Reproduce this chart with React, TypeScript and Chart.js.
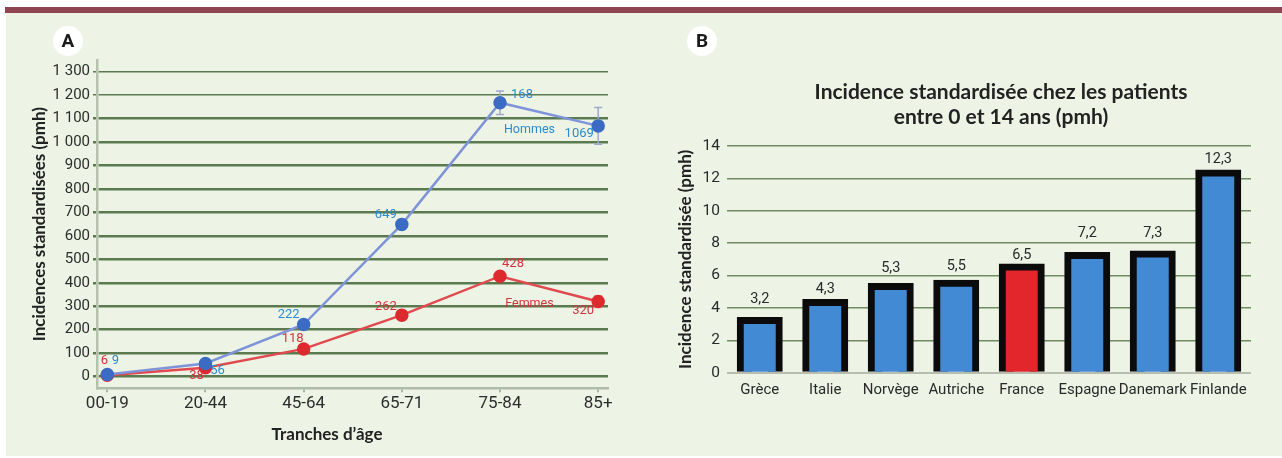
import React, { useEffect, useRef } from "react";
import { Chart, registerables } from "chart.js";

Chart.register(...registerables);

// ---------- Data ----------
const ageGroups = ["00-19", "20-44", "45-64", "65-71", "75-84", "85+"];
const hommesValues = [9, 56, 222, 649, 1168, 1069];
const femmesValues = [6, 38, 118, 262, 428, 320];
const hommesLabels = ["9", "56", "222", "649", "168", "1069"];
const femmesLabels = ["6", "38", "118", "262", "428", "320"];
const hommesErrors = [0, 0, 0, 0, 50, 78];
const femmesErrors = [0, 0, 0, 0, 0, 25];
const incidenceTicks = [0, 100, 200, 300, 400, 500, 600, 700, 800, 900, 1000, 1100, 1200, 1300];

const countries = ["Grèce", "Italie", "Norvège", "Autriche", "France", "Espagne", "Danemark", "Finlande"];
const childIncidence = [3.2, 4.3, 5.3, 5.5, 6.5, 7.2, 7.3, 12.3];
const highlightedCountry = "France";

// ---------- Styles ----------
const NARROW = "Roboto, 'Liberation Sans', sans-serif";
const BOLD = "Lato, 'Open Sans', sans-serif";
const BLUE_TEXT = "#2b8ad2";
const RED_TEXT = "#d4323a";
const GRID_GREEN = "#5b7a4f";
const BG = "#edf4e6";

// label offsets (px) relative to the point
const hommesLabelOffsets = [[8, -14], [12, 7], [-15, -10], [-16, -10], [22, -8], [-19, 8]];
const femmesLabelOffsets = [[-3, -14], [-9, 8], [-11, -10], [-16, -8], [13, -12], [-15, 9]];
const barLabelOffsets = [-22, -14, -19, -17, -12, -23, -21, -14];

const fmtThousands = (v: number) => {
  const s = String(v);
  return v >= 1000 ? s.slice(0, s.length - 3) + " " + s.slice(-3) : s;
};
const fmtComma = (v: number) => v.toFixed(1).replace(".", ",");

const errorBarsPlugin = {
  id: "errorBars",
  beforeDatasetsDraw(chart: any) {
    const { ctx, scales } = chart;
    const sets = [
      { vals: hommesValues, errs: hommesErrors, color: "#9ea9cc" },
      { vals: femmesValues, errs: femmesErrors, color: "#e8a3a3" },
    ];
    ctx.save();
    ctx.lineWidth = 1.5;
    sets.forEach((s) => {
      ctx.strokeStyle = s.color;
      s.vals.forEach((v, i) => {
        const e = s.errs[i];
        if (!e) return;
        const x = scales.x.getPixelForValue(i);
        const y1 = scales.y.getPixelForValue(v + e);
        const y2 = scales.y.getPixelForValue(v - e);
        ctx.beginPath();
        ctx.moveTo(x, y1);
        ctx.lineTo(x, y2);
        ctx.moveTo(x - 4, y1);
        ctx.lineTo(x + 4, y1);
        ctx.moveTo(x - 4, y2);
        ctx.lineTo(x + 4, y2);
        ctx.stroke();
      });
    });
    ctx.restore();
  },
};

const lineLabelsPlugin = {
  id: "lineLabels",
  afterDatasetsDraw(chart: any) {
    const { ctx, scales } = chart;
    ctx.save();
    ctx.font = `13px ${NARROW}`;
    ctx.textAlign = "center";
    ctx.textBaseline = "middle";
    const sets = [
      { vals: hommesValues, labels: hommesLabels, offs: hommesLabelOffsets, color: BLUE_TEXT },
      { vals: femmesValues, labels: femmesLabels, offs: femmesLabelOffsets, color: RED_TEXT },
    ];
    sets.forEach((s) => {
      ctx.fillStyle = s.color;
      s.vals.forEach((v, i) => {
        const x = scales.x.getPixelForValue(i) + s.offs[i][0];
        const y = scales.y.getPixelForValue(v) + s.offs[i][1];
        ctx.fillText(s.labels[i], x, y);
      });
    });
    // series names
    ctx.font = `12.5px ${NARROW}`;
    ctx.fillStyle = BLUE_TEXT;
    ctx.fillText("Hommes", scales.x.getPixelForValue(4.3), scales.y.getPixelForValue(1050));
    ctx.fillStyle = RED_TEXT;
    ctx.fillText("Femmes", scales.x.getPixelForValue(4.3), scales.y.getPixelForValue(308));
    // x-axis title
    ctx.font = `bold 17px ${BOLD}`;
    ctx.fillStyle = "#222";
    ctx.fillText("Tranches d’âge", 327, 435);
    ctx.restore();
  },
};

const barLabelsPlugin = {
  id: "barLabels",
  afterDatasetsDraw(chart: any) {
    const { ctx, scales } = chart;
    const meta = chart.getDatasetMeta(0);
    ctx.save();
    ctx.font = `14.5px ${NARROW}`;
    ctx.fillStyle = "#2a2a2a";
    ctx.textAlign = "center";
    ctx.textBaseline = "middle";
    childIncidence.forEach((v, i) => {
      const x = meta.data[i].x;
      const y = scales.y.getPixelForValue(v) + barLabelOffsets[i];
      ctx.fillText(fmtComma(v), x, y);
    });
    // chart title
    ctx.font = `bold 21px ${BOLD}`;
    ctx.fillStyle = "#222";
    ctx.fillText("Incidence standardisée chez les patients", 361, 92);
    ctx.fillText("entre 0 et 14 ans (pmh)", 361, 117);
    ctx.restore();
  },
};

export default function App() {
  const refA = useRef<HTMLCanvasElement>(null);
  const refB = useRef<HTMLCanvasElement>(null);

  useEffect(() => {
    const chartA = new Chart(refA.current as HTMLCanvasElement, {
      type: "line",
      data: {
        datasets: [
          {
            label: "Hommes",
            data: hommesValues.map((v, i) => ({ x: i, y: v })),
            borderColor: "#7f94d8",
            borderWidth: 2.5,
            pointBackgroundColor: "#3c6bc4",
            pointBorderColor: "#3c6bc4",
            pointRadius: 5.5,
            tension: 0,
          },
          {
            label: "Femmes",
            data: femmesValues.map((v, i) => ({ x: i, y: v })),
            borderColor: "#e04a4f",
            borderWidth: 2.5,
            pointBackgroundColor: "#dc2a2e",
            pointBorderColor: "#dc2a2e",
            pointRadius: 5.5,
            tension: 0,
          },
        ],
      },
      options: {
        animation: false,
        responsive: false,
        maintainAspectRatio: false,
        layout: { padding: { top: 60, right: 32, left: 0, bottom: 0 } },
        plugins: { legend: { display: false }, tooltip: { enabled: false } },
        scales: {
          x: {
            type: "linear",
            min: -0.105,
            max: 5.1,
            afterBuildTicks: (s: any) => {
              s.ticks = ageGroups.map((_, i) => ({ value: i }));
            },
            ticks: {
              callback: (v: any) => ageGroups[v],
              font: { family: NARROW, size: 17, lineHeight: 1 },
              color: "#2d2d2d",
              padding: 3,
              autoSkip: false,
              maxRotation: 0,
            },
            grid: { drawOnChartArea: false, tickLength: 4, color: "#aab6a4", lineWidth: 2 },
            border: { color: "#b0bcaa", width: 2.5 },
            afterFit: (s: any) => {
              s.height = 458 - 388.3;
            },
          },
          y: {
            min: -50,
            max: 1350,
            afterBuildTicks: (s: any) => {
              s.ticks = incidenceTicks.map((v) => ({ value: v }));
            },
            ticks: {
              callback: (v: any) => fmtThousands(v),
              font: { family: NARROW, size: 15 },
              color: "#2d2d2d",
              padding: 3,
            },
            grid: {
              color: GRID_GREEN,
              lineWidth: (c: any) => (c.tick && c.tick.value >= 1200 ? 1.5 : 2.5),
              tickLength: 4,
            },
            border: { color: "#b4c2ae", width: 2.5 },
            title: {
              display: true,
              text: "Incidences standardisées (pmh)",
              font: { family: BOLD, size: 17, weight: "bold" },
              color: "#222",
              padding: { top: 29, bottom: 0 },
            },
            afterFit: (s: any) => {
              s.width = 97;
            },
          },
        },
      },
      plugins: [errorBarsPlugin, lineLabelsPlugin],
    } as any);

    const chartB = new Chart(refB.current as HTMLCanvasElement, {
      type: "bar",
      data: {
        labels: countries,
        datasets: [
          {
            data: childIncidence,
            backgroundColor: countries.map((c) => (c === highlightedCountry ? "#e3262b" : "#428ad4")),
            borderColor: "#0b0b0b",
            borderWidth: 7,
            inflateAmount: 4,
            barPercentage: 0.58,
            categoryPercentage: 1,
          },
        ],
      },
      options: {
        animation: false,
        responsive: false,
        maintainAspectRatio: false,
        layout: { padding: { top: 146, right: 31, left: 0, bottom: 0 } },
        plugins: { legend: { display: false }, tooltip: { enabled: false } },
        scales: {
          x: {
            grid: { display: false, drawTicks: false },
            border: { display: false },
            ticks: {
              font: { family: NARROW, size: 15 },
              color: "#2a2a2a",
              padding: 9,
              autoSkip: false,
              maxRotation: 0,
            },
            afterFit: (s: any) => {
              s.height = 458 - 372.7;
            },
          },
          y: {
            min: 0,
            max: 14,
            ticks: {
              stepSize: 2,
              padding: 7,
              font: { family: NARROW, size: 15.5 },
              color: "#2a2a2a",
            },
            grid: {
              drawTicks: false,
              color: (c: any) => (c.tick && c.tick.value === 0 ? "#b9bdb0" : "#6e8c60"),
              lineWidth: (c: any) => (c.tick && c.tick.value === 0 ? 2 : 1.5),
            },
            border: { display: false },
            title: {
              display: true,
              text: "Incidence standardisée (pmh)",
              font: { family: BOLD, size: 17, weight: "bold" },
              color: "#222",
              padding: { top: 35, bottom: 0 },
            },
            afterFit: (s: any) => {
              s.width = 87;
            },
          },
        },
      },
      plugins: [barLabelsPlugin],
    } as any);

    return () => {
      chartA.destroy();
      chartB.destroy();
    };
  }, []);

  const badge = (cx: number): React.CSSProperties => ({
    position: "absolute",
    left: cx - 15,
    top: 41 - 15,
    width: 30,
    height: 30,
    borderRadius: "50%",
    background: "#ffffff",
    color: "#1a1a1a",
    fontFamily: NARROW,
    fontWeight: "bold",
    fontSize: 19,
    lineHeight: "30px",
    textAlign: "center",
  });

  return (
    <div style={{ position: "absolute", left: 0, top: 0, width: 1282, height: 458, background: "#ffffff", overflow: "hidden" }}>
      <div style={{ position: "absolute", left: 5, top: 7, width: 1277, height: 6, background: "#8f4452" }} />
      <div style={{ position: "absolute", left: 6, top: 13, width: 1276, height: 443, background: BG }} />
      <canvas ref={refA} width={640} height={458} style={{ position: "absolute", left: 0, top: 0, width: 640, height: 458 }} />
      <canvas ref={refB} width={642} height={458} style={{ position: "absolute", left: 640, top: 0, width: 642, height: 458 }} />
      <div style={badge(68)}>A</div>
      <div style={badge(702)}>B</div>
    </div>
  );
}
